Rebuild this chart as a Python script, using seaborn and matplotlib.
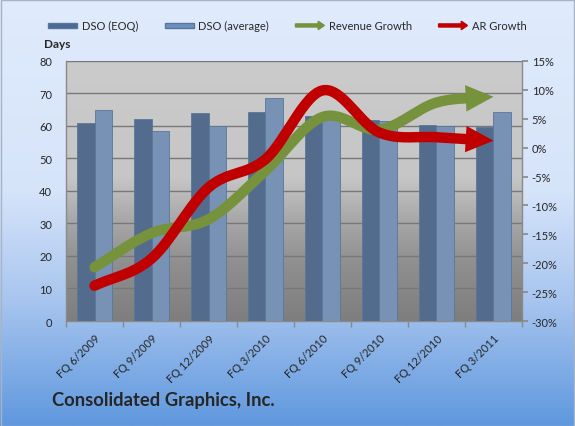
import numpy as np
import pandas as pd
import seaborn as sns
import matplotlib.pyplot as plt
import matplotlib.patches as mpatches
from matplotlib.colors import LinearSegmentedColormap
from matplotlib.legend_handler import HandlerPatch
from matplotlib.ticker import FuncFormatter, MultipleLocator

quarters = ["FQ 6/2009", "FQ 9/2009", "FQ 12/2009", "FQ 3/2010",
            "FQ 6/2010", "FQ 9/2010", "FQ 12/2010", "FQ 3/2011"]
dso_eoq = [61, 62, 64, 64.3, 63.2, 61.8, 60.3, 59.8]
dso_avg = [65, 58.5, 60, 68.6, 64, 61.5, 60, 64.2]
revenue_growth = [-20.7, -14.8, -12.4, -4.0, 5.3, 3.1, 7.8, 8.8]
ar_growth = [-23.9, -19.2, -6.9, -2.0, 9.9, 2.6, 1.8, 1.2]

C_EOQ = "#4a6a95"
C_AVG = "#6d91bf"
C_REV = "#76923c"
C_AR = "#c00000"

sns.set_theme(style="white")
plt.rcParams["font.family"] = ["Lato", "DejaVu Sans"]

df = pd.DataFrame({
    "quarter": quarters * 2,
    "series": ["DSO (EOQ)"] * 8 + ["DSO (average)"] * 8,
    "days": dso_eoq + dso_avg,
})

fig = plt.figure(figsize=(5.75, 4.27), dpi=100)

# figure background gradient
bg = fig.add_axes([0, 0, 1, 1], zorder=-10)
bg_cmap = LinearSegmentedColormap.from_list(
    "bg", [(0, "#e0ebfc"), (0.45, "#d6e4fa"), (0.7, "#a9c6ef"), (1, "#5f98de")])
bg.imshow(np.linspace(0, 1, 256).reshape(-1, 1), cmap=bg_cmap, aspect="auto",
          extent=(0, 1, 0, 1))
bg.set_axis_off()
fig.patches.append(mpatches.Rectangle((0.001, 0.001), 0.997, 0.997, transform=fig.transFigure,
                                      fill=False, edgecolor="#a6b4c6", lw=1))

ax = fig.add_axes([0.1148, 0.2459, 0.793, 0.609])
ax.set_facecolor("none")
pa_cmap = LinearSegmentedColormap.from_list(
    "pa", [(0, "#cbcbcb"), (0.45, "#c6c6c6"), (0.6, "#aaaaaa"), (0.78, "#8f8f8f"), (1, "#7e7e7e")])
ax.imshow(np.linspace(0, 1, 256).reshape(-1, 1), cmap=pa_cmap, aspect="auto",
          extent=(0, 1, 0, 1), transform=ax.transAxes, zorder=0)

sns.barplot(data=df, x="quarter", y="days", hue="series", palette=[C_EOQ, C_AVG],
            width=0.6, ax=ax, legend=False, edgecolor="#5a7799", linewidth=0.6, zorder=3)
ax.set_xlim(-0.5, 7.5)
ax.set_ylim(0, 80)
ax.yaxis.set_major_locator(MultipleLocator(10))
ax.grid(axis="y", color="#787878", lw=1, zorder=1)
ax.set_axisbelow(True)
ax.set_xlabel("")
ax.set_ylabel("")
ax.set_xticks(np.arange(8))
ax.set_xticklabels(quarters, rotation=45, ha="right", rotation_mode="anchor", fontsize=8)
ax.set_xticks(np.arange(-0.5, 8, 1), minor=True)
ax.tick_params(axis="x", which="major", length=0, pad=8)
ax.tick_params(axis="x", which="minor", length=4, color="#8a8a8a", direction="out", bottom=True)
ax.tick_params(axis="y", length=0, labelsize=8, pad=10)
ax.spines["top"].set_visible(False)
for s in ["left", "right", "bottom"]:
    ax.spines[s].set_color("#8a8a8a")
    ax.spines[s].set_linewidth(1)

ax2 = ax.twinx()
ax2.set_ylim(-30, 15)
ax2.yaxis.set_major_locator(MultipleLocator(5))
ax2.yaxis.set_major_formatter(FuncFormatter(lambda v, p: f"{v:.0f}%"))
ax2.tick_params(axis="y", length=4, color="#8a8a8a", direction="out", labelsize=8, pad=3, right=True)
for s in ax2.spines.values():
    s.set_visible(False)


def smooth(xs, ys, n=30):
    # Catmull-Rom curve through the points, like Excel's smoothed line
    p = np.column_stack([xs, ys]).astype(float)
    p = np.vstack([2 * p[0] - p[1], p, 2 * p[-1] - p[-2]])
    out = []
    t = np.linspace(0, 1, n, endpoint=False)[:, None]
    for i in range(1, len(p) - 2):
        p0, p1, p2, p3 = p[i - 1], p[i], p[i + 1], p[i + 2]
        out.append(0.5 * ((2 * p1) + (-p0 + p2) * t + (2 * p0 - 5 * p1 + 4 * p2 - p3) * t ** 2
                          + (-p0 + 3 * p1 - 3 * p2 + p3) * t ** 3))
    out.append(p[-2][None, :])
    return np.vstack(out)


x = np.arange(8)
for vals, col in [(revenue_growth, C_REV), (ar_growth, C_AR)]:
    c = smooth(x, vals)
    keep = c[:, 0] <= 6.55
    ax2.plot(c[keep, 0], c[keep, 1], color=col, lw=7.5, solid_capstyle="round", zorder=5)
    start = c[np.argmin(np.abs(c[:, 0] - 6.5))]
    ax2.annotate("", xy=(7, vals[-1]), xytext=(start[0], start[1]),
                 arrowprops=dict(arrowstyle="-|>,head_length=2.0,head_width=0.95",
                                 color=col, lw=0, mutation_scale=10, shrinkA=0, shrinkB=0),
                 zorder=6)

fig.text(0.099, 0.883, "Days", fontsize=8.5, fontweight="bold", ha="center", va="bottom")
fig.text(0.09, 0.042, "Consolidated Graphics, Inc.", fontsize=13.2, fontweight="bold",
         ha="left", va="bottom")


def arrow_handle(legend, orig_handle, xdescent, ydescent, width, height, fontsize):
    return mpatches.FancyArrow(-xdescent, height / 2 - ydescent, width, 0, width=height * 0.55,
                               head_width=height * 1.5, head_length=height * 1.1,
                               length_includes_head=True)


handles = [
    mpatches.Patch(facecolor=C_EOQ, edgecolor="#5a7799", label="DSO (EOQ)"),
    mpatches.Patch(facecolor=C_AVG, edgecolor="#5a7799", label="DSO (average)"),
    mpatches.FancyArrow(0, 0, 1, 0, color=C_REV, label="Revenue Growth"),
    mpatches.FancyArrow(0, 0, 1, 0, color=C_AR, label="AR Growth"),
]
fig.legend(handles=handles, loc="center", bbox_to_anchor=(0.5, 0.937), ncol=4, frameon=False,
           fontsize=8, handlelength=2.6, handleheight=0.4, columnspacing=2.4, handletextpad=0.4,
           handler_map={mpatches.FancyArrow: HandlerPatch(patch_func=arrow_handle)})

fig.savefig("out.png", dpi=100)
